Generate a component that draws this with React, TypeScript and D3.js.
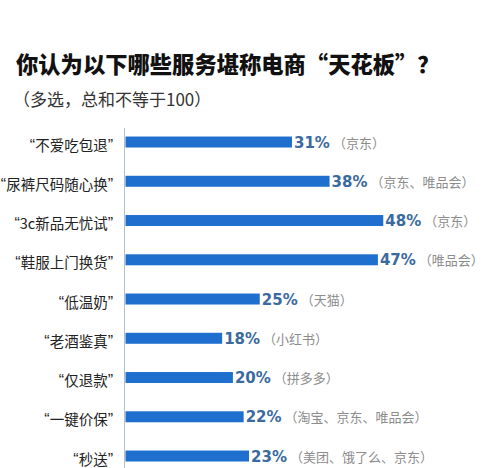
import React from 'react';
import * as d3 from 'd3';

const categories = [
  '“不爱吃包退”',
  '“尿裤尺码随心换”',
  '“3c新品无忧试”',
  '“鞋服上门换货”',
  '“低温奶”',
  '“老酒鉴真”',
  '“仅退款”',
  '“一键价保”',
  '“秒送”'
];
const values = [31, 38, 48, 47, 25, 18, 20, 22, 23];
const platforms = [
  '（京东）',
  '（京东、唯品会）',
  '（京东）',
  '（唯品会）',
  '（天猫）',
  '（小红书）',
  '（拼多多）',
  '（淘宝、京东、唯品会）',
  '（美团、饿了么、京东）'
];

const title = '你认为以下哪些服务堪称电商“天花板”？';
const subtitle = '（多选，总和不等于100）';

const W = 500;
const H = 468;
const FONT = '"Noto Sans CJK SC", "Noto Sans", sans-serif';
const LATIN = '"Liberation Sans", "DejaVu Sans", sans-serif';

// quotes drawn in a latin font so they stay narrow like the original
const Label: React.FC<{ text: string; x: number; y: number }> = ({ text, x, y }) => {
  const open = text[0];
  const close = text[text.length - 1];
  const core = text.slice(1, -1);
  return (
    <text x={x} y={y} textAnchor="end" fontSize={14.5} fill="#222">
      <tspan fontFamily={LATIN} fontSize={16}>{open}</tspan>
      <tspan>{core}</tspan>
      <tspan fontFamily={LATIN} fontSize={16}>{close}</tspan>
    </text>
  );
};

const App: React.FC = () => {
  const x = d3.scaleLinear().domain([0, 50]).range([125.5, 394]);
  const y = d3
    .scaleBand<string>()
    .domain(categories)
    .range([122.4, 475.65])
    .paddingInner(0.72)
    .paddingOuter(0.36);
  const bw = y.bandwidth();

  return (
    <svg
      width={W}
      height={H}
      style={{ position: 'absolute', left: 0, top: 0, background: '#fff' }}
      fontFamily={FONT}
    >
      {/* title + subtitle */}
      <text x={16} y={73} fontSize={22.3} fontWeight={900} fill="#111">
        {title}
      </text>
      <text x={13} y={106} fontSize={17} fill="#333">
        {subtitle}
      </text>

      {/* vertical axis line */}
      <line x1={124.5} x2={124.5} y1={128} y2={H} stroke="#b4c0cc" strokeWidth={1} />

      {categories.map((c, i) => {
        const yc = (y(c) as number) + bw / 2;
        return (
          <g key={c}>
            <rect
              x={x(0)}
              y={y(c)}
              width={x(values[i]) - x(0)}
              height={bw}
              fill="#1f6fcf"
            />
            <Label text={c} x={113} y={yc + 8.5} />
            <text x={x(values[i]) + 2} y={yc + 5.5}>
              <tspan
                fontFamily='"DejaVu Sans", sans-serif'
                fontWeight={700}
                fontSize={15}
                fill="#3a6a9e"
              >
                {values[i]}%
              </tspan>
              <tspan dx={3} fontSize={13} fill="#8c8c8c">
                {platforms[i]}
              </tspan>
            </text>
          </g>
        );
      })}
    </svg>
  );
};

export default App;
